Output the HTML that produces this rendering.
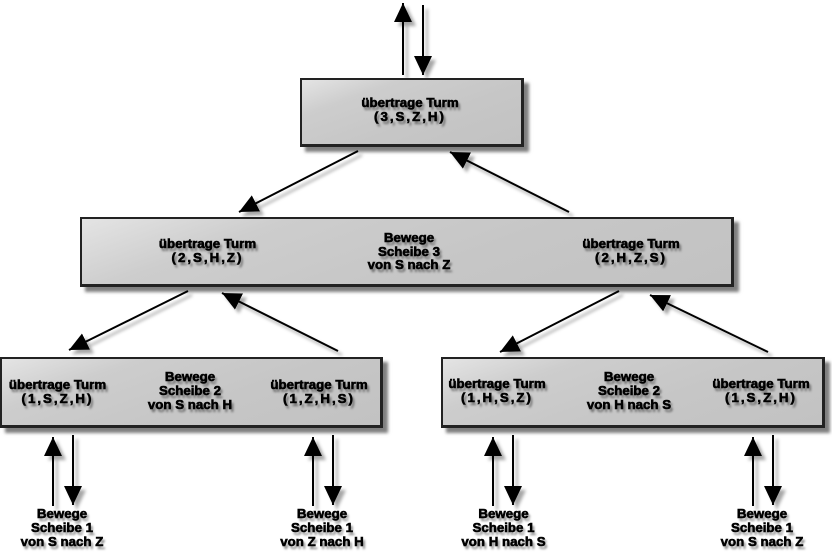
<!DOCTYPE html>
<html><head><meta charset="utf-8"><style>
html,body{margin:0;padding:0;background:#fff;}
body{width:832px;height:554px;position:relative;overflow:hidden;font-family:"Liberation Sans",Arial,sans-serif;}
.box{position:absolute;box-sizing:border-box;border:2px solid #222;border-right-width:3px;border-bottom-width:3px;
background:linear-gradient(160deg,#e4e4e4 0%,#cdcdcd 25%,#c6c6c6 60%,#c2c2c2 100%);
box-shadow:5px 5px 3px rgba(0,0,0,0.5);}
.t{position:absolute;width:200px;text-align:center;font-weight:bold;font-size:13.3px;line-height:14px;color:#000;
-webkit-text-stroke:0.6px #000;text-shadow:2px 3px 2px rgba(0,0,0,0.5);white-space:nowrap;}
.p{letter-spacing:2px;}
svg{position:absolute;left:0;top:0;}
</style></head><body>
<svg width="832" height="554" viewBox="0 0 832 554">
<defs>
<filter id="sh" x="-20%" y="-20%" width="140%" height="140%">
<feDropShadow dx="4" dy="4" stdDeviation="1.5" flood-color="#000" flood-opacity="0.35"/>
</filter>
<marker id="ah" markerUnits="userSpaceOnUse" markerWidth="22" markerHeight="20" refX="19" refY="9" orient="auto">
<path d="M0,0 L19,9 L0,18 Z" fill="#000"/>
</marker>
</defs>
<g stroke="#000" stroke-width="2" fill="none" marker-end="url(#ah)" filter="url(#sh)">
<line x1="403" y1="75" x2="403" y2="3"/>
<line x1="423" y1="5" x2="423" y2="75"/>
<line x1="358" y1="151" x2="239" y2="212"/>
<line x1="569" y1="212" x2="450" y2="152"/>
<line x1="188" y1="291" x2="69" y2="350"/>
<line x1="338" y1="351" x2="222" y2="293"/>
<line x1="619" y1="291" x2="500" y2="352"/>
<line x1="768" y1="352" x2="650" y2="295"/>
<line x1="53" y1="506" x2="53" y2="437"/>
<line x1="73" y1="435" x2="73" y2="505"/>
<line x1="313" y1="506" x2="313" y2="437"/>
<line x1="333" y1="435" x2="333" y2="505"/>
<line x1="493" y1="506" x2="493" y2="437"/>
<line x1="513" y1="435" x2="513" y2="505"/>
<line x1="753" y1="506" x2="753" y2="437"/>
<line x1="773" y1="435" x2="773" y2="505"/>
</g>
</svg>

<div class="box" style="left:300px;top:78px;width:224px;height:69px;"></div>
<div class="box" style="left:80px;top:217px;width:654px;height:70px;"></div>
<div class="box" style="left:0px;top:357px;width:383px;height:71px;"></div>
<div class="box" style="left:441px;top:357px;width:384px;height:71px;"></div>

<div class="t" style="left:310px;top:96.4px;">übertrage Turm<br><span class="p">(3,S,Z,H)</span></div>

<div class="t" style="left:107.5px;top:236.7px;">übertrage Turm<br><span class="p">(2,S,H,Z)</span></div>
<div class="t" style="left:309px;top:231.4px;line-height:13.5px;">Bewege<br>Scheibe 3<br>von S nach Z</div>
<div class="t" style="left:531px;top:236.7px;">übertrage Turm<br><span class="p">(2,H,Z,S)</span></div>

<div class="t" style="left:-42.5px;top:377.7px;">übertrage Turm<br><span class="p">(1,S,Z,H)</span></div>
<div class="t" style="left:90px;top:370.1px;line-height:13.8px;">Bewege<br>Scheibe 2<br>von S nach H</div>
<div class="t" style="left:219px;top:377.7px;">übertrage Turm<br><span class="p">(1,Z,H,S)</span></div>

<div class="t" style="left:397px;top:377px;">übertrage Turm<br><span class="p">(1,H,S,Z)</span></div>
<div class="t" style="left:529px;top:370.1px;line-height:13.8px;">Bewege<br>Scheibe 2<br>von H nach S</div>
<div class="t" style="left:661px;top:377px;">übertrage Turm<br><span class="p">(1,S,Z,H)</span></div>

<div class="t" style="left:-38px;top:506.7px;line-height:14.2px;">Bewege<br>Scheibe 1<br>von S nach Z</div>
<div class="t" style="left:222px;top:506.7px;line-height:14.2px;">Bewege<br>Scheibe 1<br>von Z nach H</div>
<div class="t" style="left:403.5px;top:506.7px;line-height:14.2px;">Bewege<br>Scheibe 1<br>von H nach S</div>
<div class="t" style="left:662px;top:506.7px;line-height:14.2px;">Bewege<br>Scheibe 1<br>von S nach Z</div>
</body></html>
